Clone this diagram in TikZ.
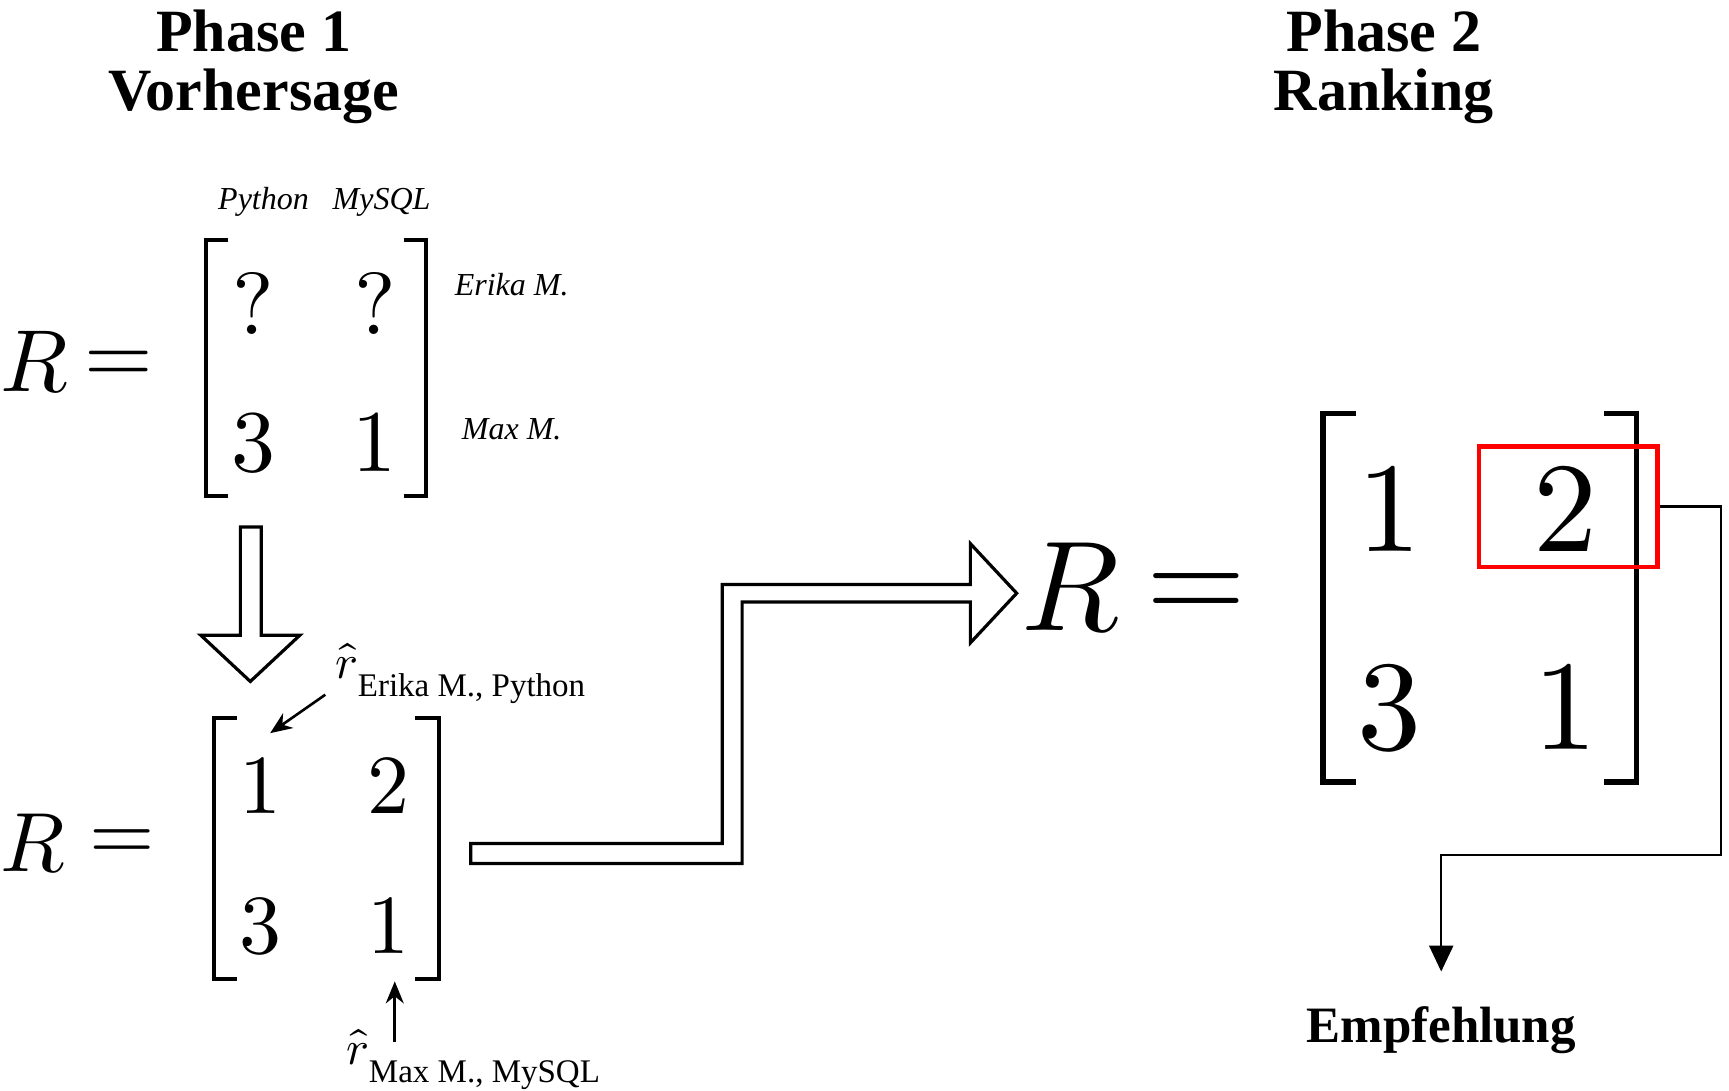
\documentclass[tikz,border=0pt]{standalone}
\usepackage{fontspec}
\usepackage{unicode-math}
\setmainfont{Liberation Serif}
\setmathfont{Latin Modern Math}
\usetikzlibrary{arrows.meta,calc}
\begin{document}
\begin{tikzpicture}[x=0.5513pt,y=-0.5513pt,
  ttl/.style={font=\fontsize{30}{29.5}\selectfont\bfseries, align=center, inner sep=0pt, anchor=base},
  lbl/.style={font=\fontsize{16}{18}\selectfont\itshape, inner sep=0pt, anchor=base},
  mA/.style={font=\fontsize{44}{48}\selectfont, inner sep=0pt, anchor=base},
  mB/.style={font=\fontsize{42}{46}\selectfont, inner sep=0pt, anchor=base},
  mC/.style={font=\fontsize{64}{68}\selectfont, inner sep=0pt, anchor=base},
  brkA/.style={line width=2pt},
  brkC/.style={line width=2.8pt},
  blockarrow/.style={line width=1.6pt, fill=white, line join=miter},
  thinarrow/.style={line width=1.3pt, -{Stealth[length=11pt,width=9pt]}},
  conn/.style={line width=1.2pt, -{Triangle[length=13pt,width=12pt]}},
  sublbl/.style={inner sep=0pt, anchor=base west},
]
\useasboundingbox (0,0) rectangle (1568,989);

% titles (anchor base = baseline of the last line)
\node[ttl] (t1) at (230,100) {Phase 1\\Vorhersage};
\node[ttl] (t2) at (1255,100) {Phase 2\\Ranking};

% top-left matrix
\node[lbl] (cPy) at (239,190) {Python};
\node[lbl] (cMy) at (346,190) {MySQL};
\node[lbl] (rEr) at (464,268) {Erika M.};
\node[lbl] (rMa) at (464,399) {Max M.};
\node[mA, anchor=base west] (RA) at (0,355) {$R$};
\node[mA, anchor=center] (eqA) at (108,333) {$=$};
\node[mA] (a11) at (230,303) {$?$};
\node[mA] (a12) at (340,303) {$?$};
\node[mA] (a21) at (230,428) {$3$};
\node[mA] (a22) at (340,428) {$1$};
\draw[brkA] (207,218) -- (187,218) -- (187,450) -- (207,450);
\draw[brkA] (366,218) -- (386,218) -- (386,450) -- (366,450);

% down block arrow
\draw[blockarrow] (218,478) -- (237,478) -- (237,576) -- (272,576) -- (227,618) -- (182,576) -- (218,576) -- cycle;

% bottom-left matrix
\node[mB, anchor=base west] (RB) at (0,790) {$R$};
\node[mB, anchor=center] (eqB) at (111,766) {$=$};
\node[mB] (b11) at (236,738) {$1$};
\node[mB] (b12) at (352,738) {$2$};
\node[mB] (b21) at (236,865) {$3$};
\node[mB] (b22) at (352,865) {$1$};
\draw[brkA] (215,651) -- (194,651) -- (194,888) -- (215,888);
\draw[brkA] (376,651) -- (398,651) -- (398,888) -- (376,888);

% r-hat labels
\node[sublbl] (hatE) at (304,615) {\fontsize{24}{24}\selectfont$\hat{r}$\raisebox{-9.4pt}{\fontsize{16.5}{18}\selectfont Erika M., Python}};
\node[sublbl] (hatM) at (314,965) {\fontsize{24}{24}\selectfont$\hat{r}$\raisebox{-9.4pt}{\fontsize{16.5}{18}\selectfont Max M., MySQL}};
\draw[thinarrow] ($(hatE.base west)+(-9,15)$) -- ($(b11.north)+(9,-22)$);
\draw[thinarrow] ($(hatM.base west)+(44,-20)$) -- ($(b22.base)+(6,25)$);

% Z block arrow
\draw[blockarrow] (427,765) -- (655,765) -- (655,530) -- (880,530) -- (880,493) -- (922,538) -- (880,583) -- (880,546) -- (673,546) -- (673,783) -- (427,783) -- cycle;

% right matrix
\node[mC, anchor=base west] (RC) at (926,572) {$R$};
\node[mC, anchor=center] (eqC) at (1085,541) {$=$};
\node[mC] (c11) at (1260,500) {$1$};
\node[mC] (c12) at (1420,500) {$2$};
\node[mC] (c21) at (1260,680) {$3$};
\node[mC] (c22) at (1420,680) {$1$};
\draw[brkC] (1230,375) -- (1200,375) -- (1200,709) -- (1230,709);
\draw[brkC] (1455,375) -- (1484,375) -- (1484,709) -- (1455,709);
\node[draw=red, line width=2.2pt, minimum width=89.3pt, minimum height=60.1pt, inner sep=0pt] (rbox) at (1422,459.5) {};

% recommendation
\node[font=\fontsize{25.5}{27}\selectfont\bfseries, inner sep=0pt, anchor=base] (emp) at (1307,945) {Empfehlung};
\draw[conn] (rbox.east) -- ++(56,0) -- ++(0,316) -| ($(emp.north)+(0,-31)$);
\end{tikzpicture}
\end{document}
